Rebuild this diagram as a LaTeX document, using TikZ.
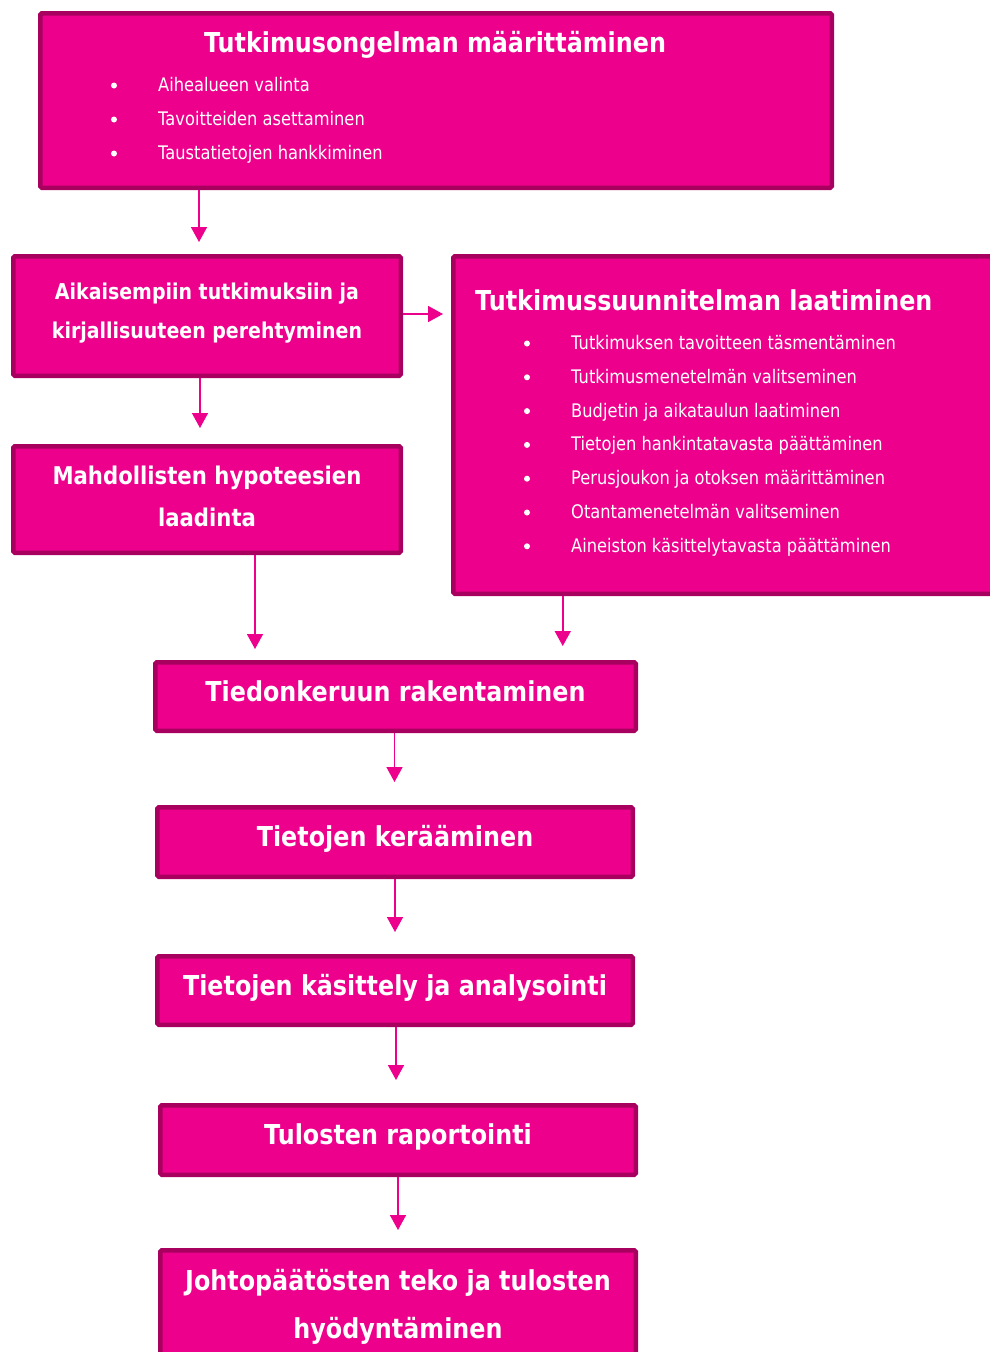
\documentclass[tikz,border=0pt]{standalone}
\usepackage{fontspec}
\setmainfont{DejaVu Sans}[FakeStretch=0.87]
\usetikzlibrary{arrows.meta}
\definecolor{boxfill}{HTML}{EC008C}
\definecolor{boxedge}{HTML}{A8005F}
\tikzset{
  stage/.style   = { draw=boxedge, fill=boxfill, line width=4.5pt, rounded corners=1.5pt,
                     text=white, align=center, inner sep=0pt },
  oneline/.style = { stage, font=\bfseries\fontsize{27.4}{32}\selectfont, text height=20pt, text depth=11pt },
  boxtext/.style = { text=white, align=center, inner sep=0pt },
  heading/.style = { text=white, inner sep=0pt, font=\bfseries\fontsize{27.4}{32}\selectfont },
  item/.style    = { text=white, inner sep=0pt, anchor=base west, font=\fontsize{18.7}{22}\selectfont },
  dot/.style     = { circle, fill=white, inner sep=0pt, minimum size=6pt },
  flow/.style    = { draw=boxfill, line width=1.6pt, -{Triangle[width=16pt,length=15pt]} }
}

\begin{document}
\begin{tikzpicture}[x=1pt, y=-1pt]
    \useasboundingbox (0,0) rectangle (990,1352);

    % boxes with lists
    \node[stage, minimum width=791.5pt, minimum height=174.5pt] (problem) at (436,100.5) {};
    \node[heading, anchor=base] (problem-title) at (435,52) {Tutkimusongelman määrittäminen};
    \foreach \txt [count=\i] in {Aihealueen valinta, Tavoitteiden asettaminen, Taustatietojen hankkiminen}{
      \node[dot] (problem-dot\i) at (114,51.5+34*\i) {};
      \node[item] (problem-item\i) at (158,57.5+34*\i) {\txt};
    }

    \node[stage, minimum width=544.5pt, minimum height=337.5pt] (plan) at (725.5,425) {};
    \node[heading, anchor=base west] (plan-title) at (475,310) {Tutkimussuunnitelman laatiminen};
    \foreach \txt [count=\i] in {Tutkimuksen tavoitteen täsmentäminen, Tutkimusmenetelmän valitseminen,
        Budjetin ja aikataulun laatiminen, Tietojen hankintatavasta päättäminen,
        Perusjoukon ja otoksen määrittäminen, Otantamenetelmän valitseminen,
        Aineiston käsittelytavasta päättäminen}{
      \node[dot] (plan-dot\i) at (527,309.7+33.8*\i) {};
      \node[item] (plan-item\i) at (571,315.7+33.8*\i) {\txt};
    }

    % two-line steps
    \node[stage, minimum width=387.5pt, minimum height=119.5pt] (review) at (207,316) {};
    \node[boxtext, font=\bfseries\fontsize{21.8}{39}\selectfont] (review-text) at ([yshift=3pt]review.center)
          {Aikaisempiin tutkimuksiin ja\\kirjallisuuteen perehtyminen};
    \node[stage, minimum width=387.5pt, minimum height=106.5pt] (hypo) at (207,499.5) {};
    \node[boxtext, font=\bfseries\fontsize{24.4}{42}\selectfont] (hypo-text) at ([yshift=3.5pt]hypo.center)
          {Mahdollisten hypoteesien\\laadinta};

    % one-line steps
    \node[oneline, minimum width=480.5pt, minimum height=68.5pt] (build)   at (395.5,696.5) {Tiedonkeruun rakentaminen};
    \node[oneline, minimum width=475.5pt, minimum height=69.5pt] (gather)  at (395,842)     {Tietojen kerääminen};
    \node[oneline, minimum width=475.5pt, minimum height=68.5pt] (analyse) at (395,990.5)   {Tietojen käsittely ja analysointi};
    \node[oneline, minimum width=475.5pt, minimum height=69.5pt] (report)  at (398,1140)    {Tulosten raportointi};

    \node[stage, minimum width=475.5pt, minimum height=117.5pt] (conclude) at (398,1309) {};
    \node[boxtext, font=\bfseries\fontsize{27.4}{48}\selectfont] (conclude-text) at ([yshift=2.5pt]conclude.center)
          {Johtopäätösten teko ja tulosten\\hyödyntäminen};

    % arrows
    \draw[flow, shorten >=12pt] ([xshift=-8pt]review.north |- problem.south) -- ([xshift=-8pt]review.north);
    \draw[flow, shorten >=8pt]  ([yshift=2pt]review.east) -- ([yshift=2pt]review.east -| plan.west);
    \draw[flow, shorten >=16pt] ([xshift=-7pt]review.south) -- ([xshift=-7pt]hypo.north);
    \draw[flow, shorten >=11pt] ([xshift=48pt]hypo.south) -- ([xshift=48pt]hypo.south |- build.north);
    \draw[flow, shorten >=14pt] ([xshift=111.75pt]plan.south west) -- ([xshift=111.75pt]plan.south west |- build.north);
    \draw[flow, shorten >=23pt] ([xshift=-1pt]build.south) -- ([xshift=-1pt]build.south |- gather.north);
    \draw[flow, shorten >=22pt] (gather.south) -- (gather.south |- analyse.north);
    \draw[flow, shorten >=23pt] ([xshift=1pt]analyse.south) -- ([xshift=1pt]analyse.south |- report.north);
    \draw[flow, shorten >=18pt] (report.south) -- (report.south |- conclude.north);
\end{tikzpicture}
\end{document}
